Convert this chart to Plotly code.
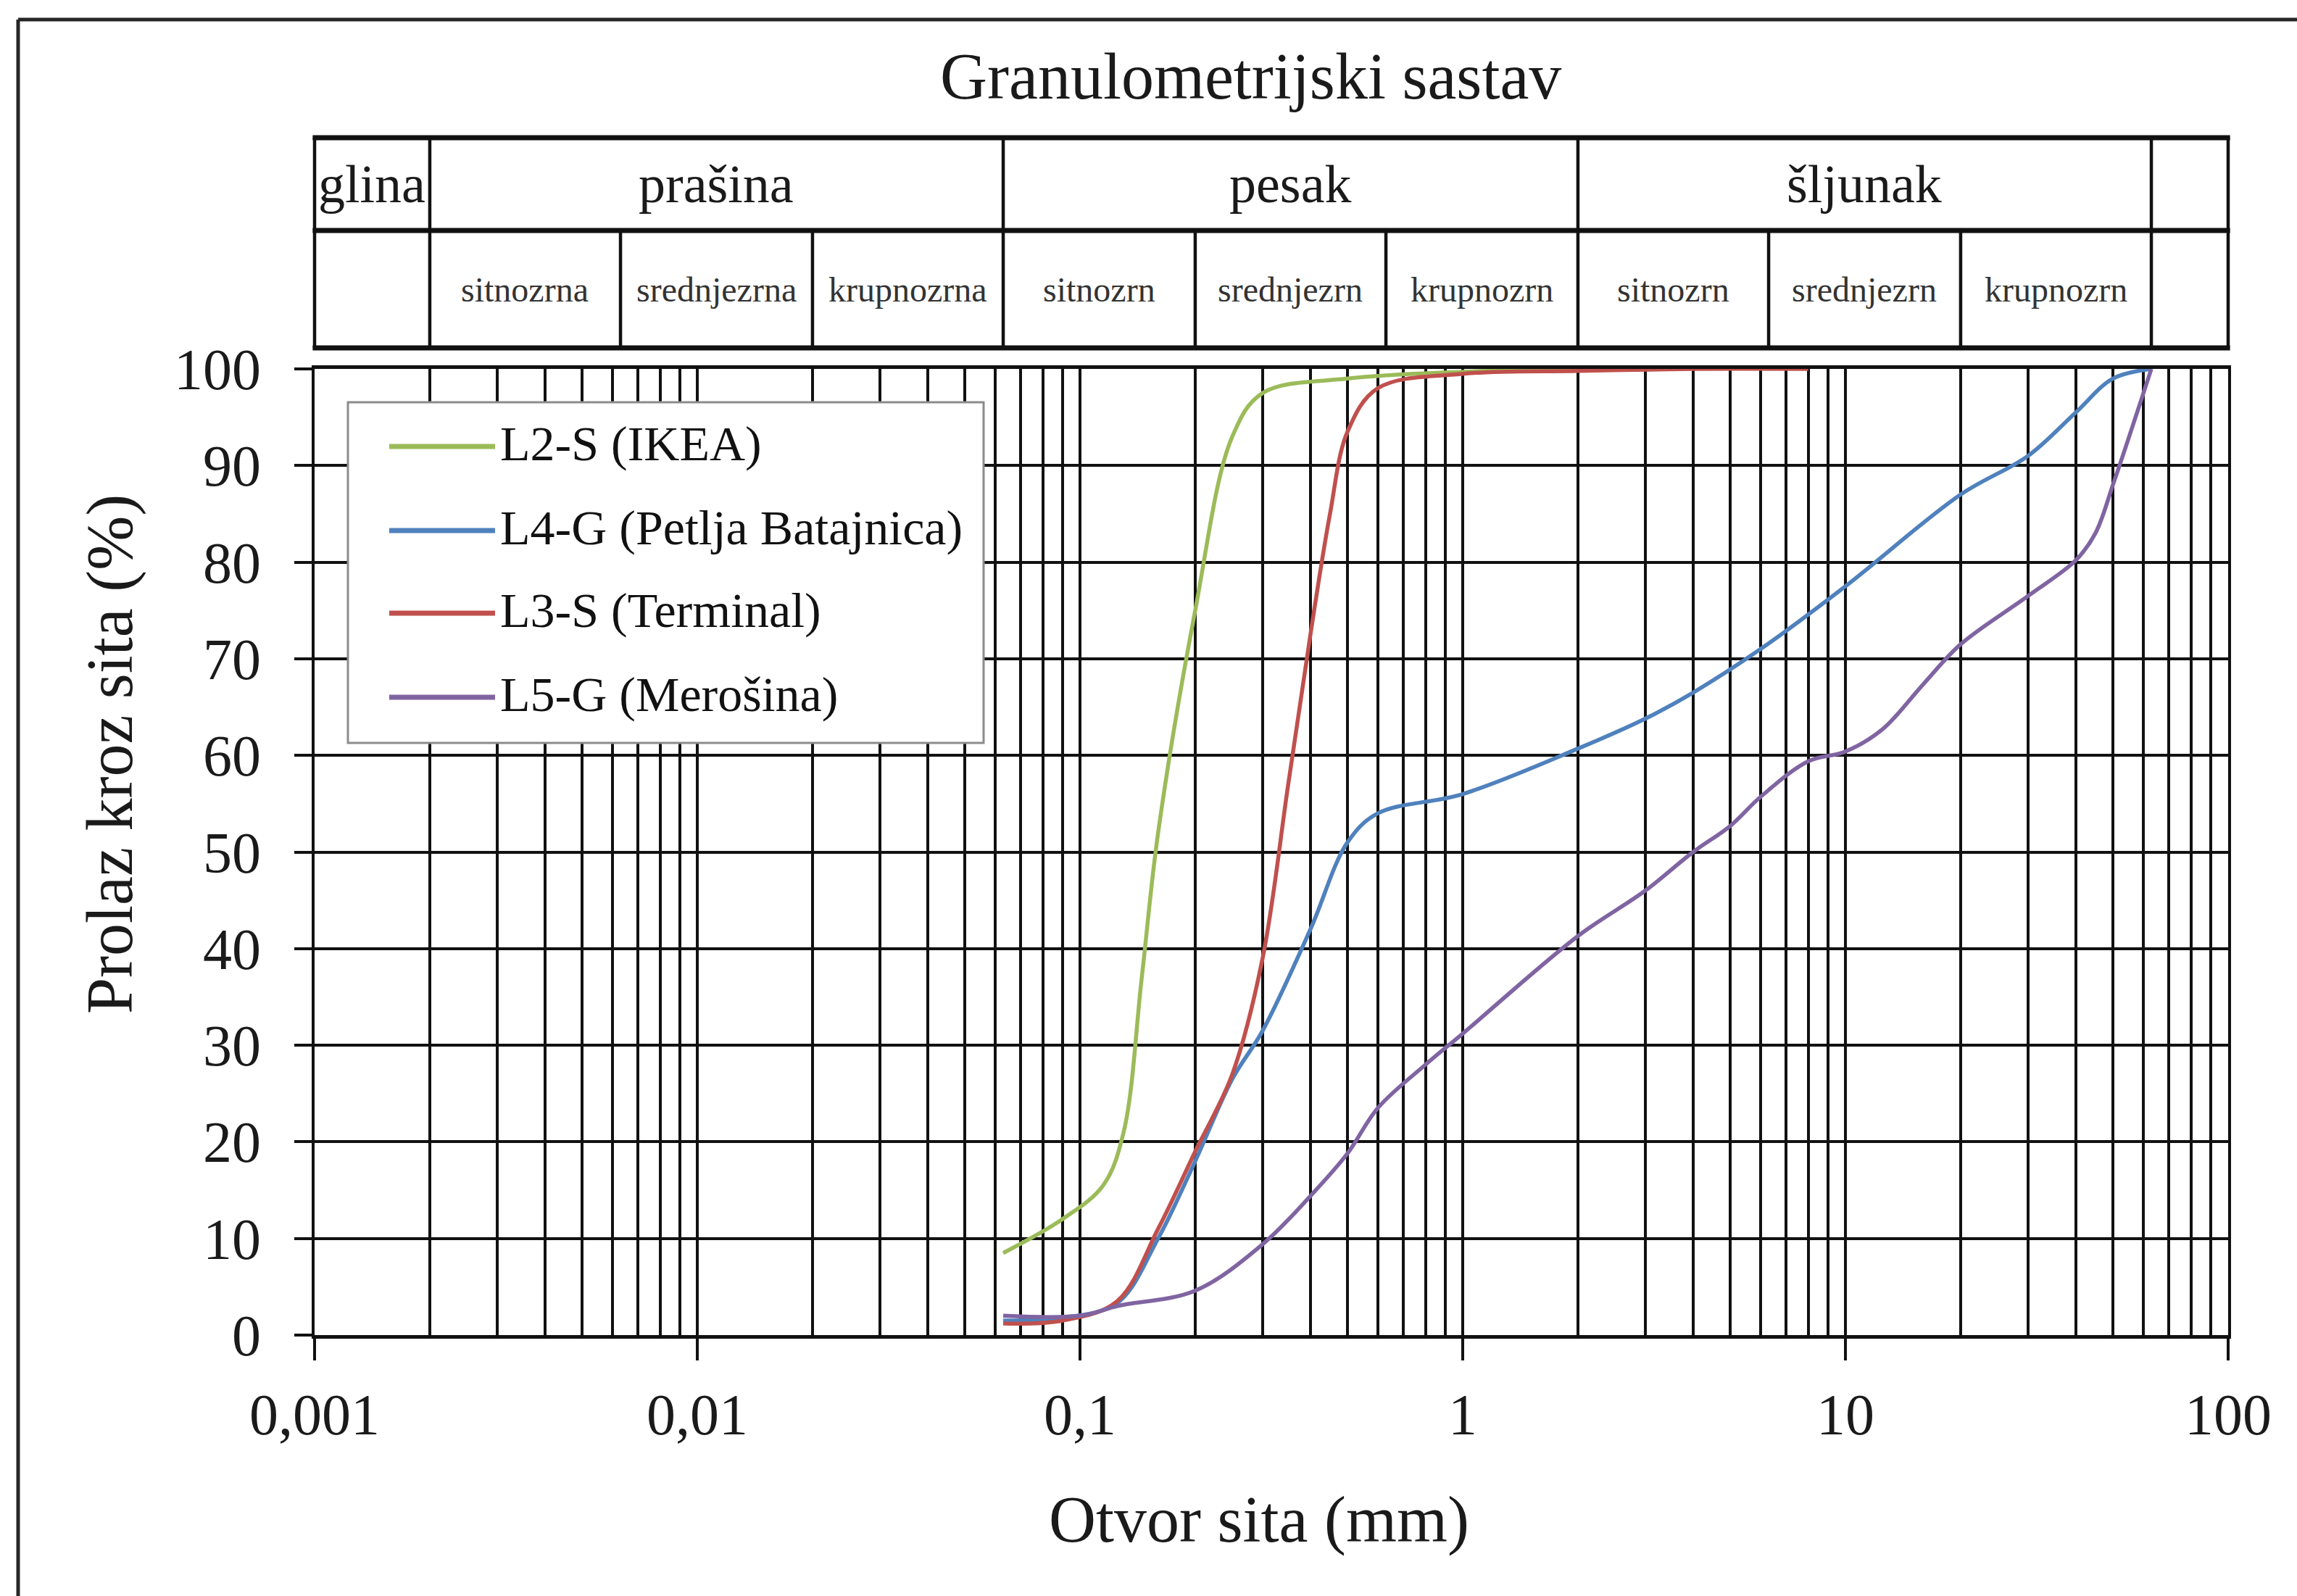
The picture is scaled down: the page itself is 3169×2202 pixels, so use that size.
import math
import plotly.graph_objects as go

# ---------------- data ----------------
series_names = ["L2-S (IKEA)", "L4-G (Petlja Batajnica)", "L3-S (Terminal)", "L5-G (Merošina)"]
series_colors = ["#9BBB59", "#4F81BD", "#C0504D", "#8064A2"]

l2s_x = [0.063, 0.09, 0.115, 0.13, 0.145, 0.16, 0.2, 0.25, 0.3, 0.5, 1, 2]
l2s_y = [8.5, 12, 15.5, 21, 37, 52, 75, 93, 97.5, 99, 99.7, 100]

l4g_x = [0.063, 0.09, 0.125, 0.16, 0.2, 0.25, 0.3, 0.4, 0.5, 0.6, 1, 2, 3, 4, 6, 10, 20, 30, 40, 50, 63]
l4g_y = [1.5, 1.8, 3.3, 10, 18, 26.5, 31.5, 42, 51, 54, 56, 60.7, 63.8, 66.5, 71, 77.5, 87, 91, 95.5, 99, 100]

l3s_x = [0.063, 0.09, 0.125, 0.16, 0.2, 0.25, 0.3, 0.35, 0.4, 0.45, 0.5, 0.6, 1, 2, 4, 8]
l3s_y = [1.2, 1.5, 3.5, 11, 19, 27, 39, 57, 72.5, 85, 93.5, 98, 99.5, 99.8, 100, 100]

l5g_x = [0.063, 0.1, 0.125, 0.2, 0.3, 0.4, 0.5, 0.6, 0.8, 1, 2, 3, 4, 5, 6, 8, 10, 12.5, 16, 20, 30, 40, 45, 50, 63]
l5g_y = [2, 2, 3, 4.6, 9.4, 14.4, 18.8, 23.5, 28, 31.2, 41.3, 46, 50, 52.7, 55.7, 59.4, 60.4, 62.7, 67.4, 71.5, 76.5, 80.2, 83, 88, 100]

series_x = [l2s_x, l4g_x, l3s_x, l5g_x]
series_y = [l2s_y, l4g_y, l3s_y, l5g_y]

x_major_ticks = [0.001, 0.01, 0.1, 1, 10, 100]
x_major_labels = ["0,001", "0,01", "0,1", "1", "10", "100"]
y_ticks = [0, 10, 20, 30, 40, 50, 60, 70, 80, 90, 100]

fraction_names = ["glina", "prašina", "pesak", "šljunak", ""]
fraction_bounds = [0.001, 0.002, 0.063, 2, 63, 100]
subfraction_names = ["", "sitnozrna", "srednjezrna", "krupnozrna",
                     "sitnozrn", "srednjezrn", "krupnozrn",
                     "sitnozrn", "srednjezrn", "krupnozrn", ""]
subfraction_bounds = [0.001, 0.002, 0.0063, 0.02, 0.063, 0.2, 0.63, 2, 6.3, 20, 63, 100]

title_text = "Granulometrijski sastav"
x_title = "Otvor sita (mm)"
y_title = "Prolaz kroz sita (%)"

# ---------------- layout constants ----------------
W, H = 3169, 2202
ML, MR, MT, MB = 434, 95, 509, 360
PW = W - ML - MR
PH = H - MT - MB
FONT = "Liberation Serif"
XMIN, XMAX = -3, 2


def px_y(ypx):
    return (H - MB - ypx) / PH


def px_x(xpx):
    return (xpx - ML) / PW


def val_x(v):
    return (math.log10(v) - XMIN) / (XMAX - XMIN)


minor_vals = []
for d in x_major_ticks[:-1]:
    for k in range(2, 10):
        minor_vals.append(d * k)

fig = go.Figure()
for name, color, xs, ys in zip(series_names, series_colors, series_x, series_y):
    fig.add_trace(go.Scatter(
        x=xs, y=ys, mode="lines", name=name,
        line=dict(color=color, width=5.5, shape="spline", smoothing=1.0),
        showlegend=False, hoverinfo="skip"))

shapes = []
annotations = []

# outer frame (top + left)
shapes.append(dict(type="line", xref="paper", yref="paper",
                   x0=px_x(25), x1=px_x(W + 20), y0=px_y(27), y1=px_y(27),
                   line=dict(color="#262626", width=5)))
shapes.append(dict(type="line", xref="paper", yref="paper",
                   x0=px_x(25), x1=px_x(25), y0=px_y(27), y1=px_y(H + 20),
                   line=dict(color="#262626", width=5)))

# header table
t_top, t_mid, t_bot = px_y(190), px_y(318), px_y(480)
for yy in (t_top, t_mid, t_bot):
    shapes.append(dict(type="line", xref="paper", yref="paper",
                       x0=val_x(fraction_bounds[0]) - 0.001, x1=val_x(fraction_bounds[-1]) + 0.001,
                       y0=yy, y1=yy, line=dict(color="#111111", width=7)))
for b in subfraction_bounds:
    top = t_top if b in fraction_bounds else t_mid
    shapes.append(dict(type="line", xref="paper", yref="paper",
                       x0=val_x(b), x1=val_x(b), y0=t_bot, y1=top,
                       line=dict(color="#111111", width=4.5)))
for i, nm in enumerate(fraction_names):
    if not nm:
        continue
    cx = (val_x(fraction_bounds[i]) + val_x(fraction_bounds[i + 1])) / 2
    annotations.append(dict(text=nm, xref="paper", yref="paper", x=cx, y=(t_top + t_mid) / 2,
                            xanchor="center", yanchor="middle", showarrow=False,
                            font=dict(family=FONT, size=74, color="#1a1a1a")))
for i, nm in enumerate(subfraction_names):
    if not nm:
        continue
    cx = (val_x(subfraction_bounds[i]) + val_x(subfraction_bounds[i + 1])) / 2
    annotations.append(dict(text=nm, xref="paper", yref="paper", x=cx, y=(t_mid + t_bot) / 2,
                            xanchor="center", yanchor="middle", showarrow=False,
                            font=dict(family=FONT, size=48, color="#333333")))

# title
annotations.append(dict(text=title_text, xref="paper", yref="paper", x=px_x(1725), y=px_y(106),
                        xanchor="center", yanchor="middle", showarrow=False,
                        font=dict(family=FONT, size=90, color="#1a1a1a")))
# axis titles
annotations.append(dict(text=x_title, xref="paper", yref="paper", x=px_x(1737), y=px_y(2097),
                        xanchor="center", yanchor="middle", showarrow=False,
                        font=dict(family=FONT, size=90, color="#1a1a1a")))
annotations.append(dict(text=y_title, xref="paper", yref="paper", x=px_x(152), y=px_y(1041),
                        xanchor="center", yanchor="middle", showarrow=False, textangle=-90,
                        font=dict(family=FONT, size=90, color="#1a1a1a")))

# custom legend
shapes.append(dict(type="rect", xref="paper", yref="paper", layer="above",
                   x0=px_x(480), x1=px_x(1357), y0=px_y(1025), y1=px_y(555),
                   fillcolor="white", line=dict(color="#8c8c8c", width=3)))
leg_rows = [616, 732, 846, 962]
for name, color, ry in zip(series_names, series_colors, leg_rows):
    shapes.append(dict(type="line", xref="paper", yref="paper", layer="above",
                       x0=px_x(537), x1=px_x(683), y0=px_y(ry), y1=px_y(ry),
                       line=dict(color=color, width=7)))
    annotations.append(dict(text=name, xref="paper", yref="paper", x=px_x(688), y=px_y(ry - 4),
                            xanchor="left", yanchor="middle", showarrow=False,
                            font=dict(family=FONT, size=68, color="#111111")))

fig.update_layout(
    width=W, height=H,
    margin=dict(l=ML, r=MR, t=MT, b=MB, pad=0),
    paper_bgcolor="white", plot_bgcolor="white",
    showlegend=False,
    shapes=shapes, annotations=annotations,
    xaxis=dict(type="log", range=[XMIN, XMAX],
               tickmode="array", tickvals=x_major_ticks, ticktext=x_major_labels,
               ticks="outside", ticklen=30, tickwidth=3.5, tickcolor="#111111",
               showgrid=True, gridcolor="#111111", gridwidth=3.5,
               minor=dict(tickmode="array", tickvals=minor_vals, showgrid=True,
                          gridcolor="#111111", gridwidth=3.5, ticks=""),
               showline=True, linecolor="#111111", linewidth=5, mirror=True,
               zeroline=False, ticklabelstandoff=6,
               tickfont=dict(family=FONT, size=80, color="#1a1a1a")),
    yaxis=dict(range=[0, 100], tickmode="array", tickvals=y_ticks,
               ticks="outside", ticklen=24, tickwidth=3.5, tickcolor="#111111",
               showgrid=True, gridcolor="#111111", gridwidth=3.5,
               showline=True, linecolor="#111111", linewidth=4, mirror=True,
               zeroline=False, ticklabelstandoff=30,
               tickfont=dict(family=FONT, size=80, color="#1a1a1a")),
)

fig.write_html("out.html")
